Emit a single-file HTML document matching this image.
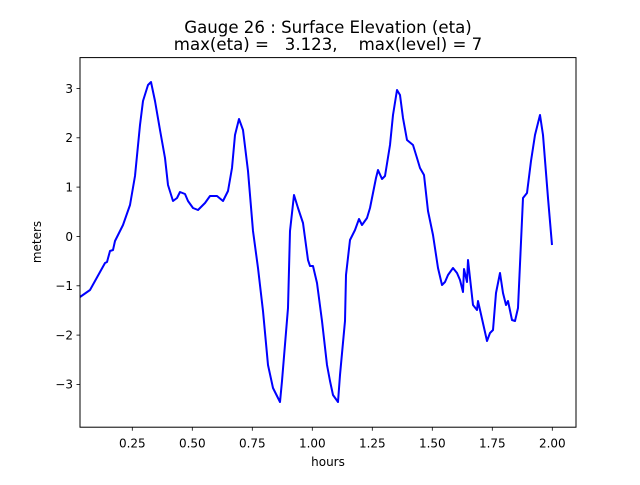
<!DOCTYPE html>
<html><head><meta charset="utf-8"><style>
body{margin:0;background:#fff}
svg text{font-family:"DejaVu Sans","Liberation Sans",sans-serif;fill:#000}
</style></head><body>
<svg width="640" height="480" viewBox="0 0 640 480" xmlns="http://www.w3.org/2000/svg">
<rect width="640" height="480" fill="#fff"/>
<text x="328" y="33" font-size="16.6" text-anchor="middle">Gauge 26 : Surface Elevation (eta)</text>
<text x="328" y="50" font-size="16.6" text-anchor="middle" xml:space="preserve">max(eta) =   3.123,    max(level) = 7</text>
<polyline fill="none" stroke="#0000ff" stroke-width="2" stroke-linejoin="round" points="
80,297 90,290 105,263 107,262 110,251 113,250 115,241 123,225 130,205 135,176 140,125 143,101 148,85 151,82 155,101 160,130 165,158 168,185 173,201 177,198 180,192 185,194 188,201 193,208 198,210 205,203 210,196 217,196 223,201 228,191 232,168 235,135 239,119 243,130 248,171 253,231 258,268 263,311 268,365 273,388 280,402 282,381 288,308 290,231 294,195 298,208 303,223 308,260 310,266 313,266 317,283 322,321 327,365 330,381 333,395 338,402 340,375 345,321 346,275 350,240 355,230 359,219 362,225 367,218 370,208 373,193 376,178 378,170 382,179 385,176 390,145 393,115 397,90 400,95 403,118 407,140 413,145 417,158 420,168 424,175 428,211 433,235 438,268 442,285 445,282 448,275 453,268 457,273 460,280 463,292 464,269 467,282 468,260 473,305 477,310 478,301 487,341 490,333 493,330 496,293 500,273 503,293 506,305 508,301 512,320 515,321 518,308 523,198 527,193 531,161 535,135 540,115 543,135 548,198 552,245"/>
<rect x="80" y="57.6" width="496" height="369.6" fill="none" stroke="#000" stroke-width="1"/>
<g stroke="#000" stroke-width="0.8">
<line x1="132.3" y1="427.2" x2="132.3" y2="430.7"/>
<line x1="192.3" y1="427.2" x2="192.3" y2="430.7"/>
<line x1="252.3" y1="427.2" x2="252.3" y2="430.7"/>
<line x1="312.3" y1="427.2" x2="312.3" y2="430.7"/>
<line x1="372.3" y1="427.2" x2="372.3" y2="430.7"/>
<line x1="432.3" y1="427.2" x2="432.3" y2="430.7"/>
<line x1="492.3" y1="427.2" x2="492.3" y2="430.7"/>
<line x1="552.3" y1="427.2" x2="552.3" y2="430.7"/>
<line x1="76.5" y1="88.5" x2="80" y2="88.5"/>
<line x1="76.5" y1="137.8" x2="80" y2="137.8"/>
<line x1="76.5" y1="187.1" x2="80" y2="187.1"/>
<line x1="76.5" y1="236.5" x2="80" y2="236.5"/>
<line x1="76.5" y1="285.8" x2="80" y2="285.8"/>
<line x1="76.5" y1="335.1" x2="80" y2="335.1"/>
<line x1="76.5" y1="384.4" x2="80" y2="384.4"/>
</g>
<g font-size="12" text-anchor="middle">
<text x="132.3" y="447.5">0.25</text>
<text x="192.3" y="447.5">0.50</text>
<text x="252.3" y="447.5">0.75</text>
<text x="312.3" y="447.5">1.00</text>
<text x="372.3" y="447.5">1.25</text>
<text x="432.3" y="447.5">1.50</text>
<text x="492.3" y="447.5">1.75</text>
<text x="552.3" y="447.5">2.00</text>
<text x="328" y="466">hours</text>
</g>
<g font-size="12" text-anchor="end">
<text x="73" y="92.8">3</text>
<text x="73" y="142.1">2</text>
<text x="73" y="191.4">1</text>
<text x="73" y="240.8">0</text>
<text x="73" y="290.1">−1</text>
<text x="73" y="339.4">−2</text>
<text x="73" y="388.7">−3</text>
</g>
<text font-size="12" text-anchor="middle" transform="translate(41,242) rotate(-90)">meters</text>
</svg>
</body></html>
